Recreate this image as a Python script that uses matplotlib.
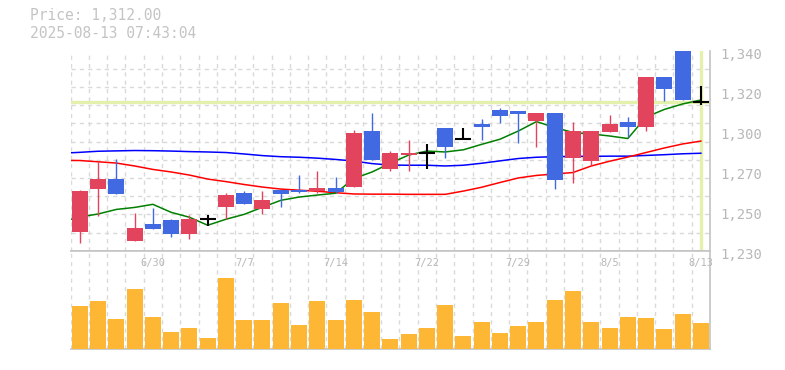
import numpy as np
import matplotlib
matplotlib.use("Agg")
import matplotlib.pyplot as plt
import matplotlib.transforms as mtransforms

plt.rcParams['font.family'] = ['DejaVu Sans Mono', 'DejaVu Sans']

# ---- data (daily candles, 6/24 .. 8/13) ----
dates = ["6/24", "6/25", "6/26", "6/27", "6/30", "7/1", "7/2", "7/3", "7/4",
         "7/7", "7/8", "7/9", "7/10", "7/11", "7/14", "7/15", "7/16", "7/17",
         "7/18", "7/22", "7/23", "7/24", "7/25", "7/28", "7/29", "7/30", "7/31",
         "8/1", "8/4", "8/5", "8/6", "8/7", "8/8", "8/12", "8/13"]
opens = [1240.3, 1263.9, 1269.4, 1235.5, 1244.7, 1246.9, 1239.3, 1247.3, 1254.2,
         1261.7, 1253.1, 1263.5, 1263.5, 1263.0, 1264.5, 1265.2, 1295.8, 1275.1,
         1282.5, 1283.7, 1297.5, 1291.3, 1299.7, 1307.4, 1306.7, 1301.3, 1305.7,
         1281.2, 1279.5, 1295.3, 1301.0, 1298.2, 1325.5, 1345.0, 1312.0]
highs = [1263.4, 1279.3, 1280.4, 1250.7, 1253.7, 1247.4, 1249.6, 1249.6, 1261.9,
         1263.0, 1263.0, 1263.5, 1271.6, 1273.8, 1270.5, 1296.4, 1305.7, 1284.8,
         1290.9, 1288.7, 1297.5, 1297.3, 1302.4, 1308.3, 1306.7, 1305.7, 1305.7,
         1300.8, 1295.8, 1304.8, 1303.5, 1325.7, 1325.5, 1345.0, 1320.6]
lows = [1234.4, 1249.2, 1261.3, 1235.5, 1242.1, 1237.4, 1236.3, 1243.6, 1247.3,
        1255.5, 1250.2, 1254.2, 1261.6, 1261.6, 1262.0, 1265.2, 1280.0, 1274.0,
        1274.0, 1275.1, 1281.2, 1291.3, 1290.9, 1300.4, 1289.4, 1287.2, 1264.0,
        1267.4, 1277.3, 1295.3, 1292.4, 1296.0, 1312.5, 1312.8, 1310.1]
closes = [1262.8, 1269.4, 1261.3, 1242.5, 1242.1, 1239.3, 1247.4, 1247.3, 1260.6,
          1255.5, 1257.9, 1261.3, 1262.4, 1264.5, 1262.4, 1294.7, 1280.0, 1283.7,
          1283.7, 1283.7, 1287.2, 1291.3, 1298.2, 1304.2, 1305.3, 1305.7, 1269.0,
          1296.1, 1295.8, 1299.7, 1298.2, 1325.7, 1319.1, 1312.8, 1312.0]
volumes = [43, 48, 30, 61, 32, 17, 21, 11, 72, 29, 29, 46, 24, 48, 29, 50, 37,
           10, 15, 21, 44, 13, 27, 16, 23, 27, 49, 59, 27, 21, 32, 31, 20, 35, 26]

# moving averages, first value is the day before 6/24
ma_short = [1246.0, 1248.5, 1250.2, 1252.7, 1253.8, 1255.5, 1251.1, 1248.4, 1244.0,
            1247.3, 1250.0, 1253.9, 1257.7, 1259.5, 1260.6, 1261.6, 1269.7, 1273.3,
            1278.1, 1282.6, 1284.8, 1284.3, 1285.5, 1288.5, 1291.3, 1295.8, 1301.0,
            1297.8, 1295.0, 1294.2, 1293.1, 1291.7, 1303.5, 1307.7, 1310.7, 1312.9]
ma_mid = [1279.7, 1279.6, 1278.9, 1278.2, 1276.6, 1274.7, 1273.3, 1271.6, 1269.4,
          1268.0, 1266.4, 1265.0, 1263.9, 1263.3, 1262.7, 1261.9, 1261.2, 1261.1,
          1261.1, 1261.0, 1261.0, 1261.0, 1262.8, 1264.9, 1267.5, 1270.0, 1271.4,
          1272.2, 1273.0, 1276.6, 1279.2, 1281.5, 1284.0, 1286.5, 1288.7, 1290.3]
ma_long = [1283.6, 1284.1, 1284.7, 1284.9, 1285.1, 1285.0, 1284.8, 1284.5, 1284.3,
           1284.0, 1283.2, 1282.3, 1281.7, 1281.4, 1280.9, 1280.2, 1279.3, 1277.9,
           1277.1, 1277.0, 1277.0, 1276.6, 1277.0, 1278.1, 1279.4, 1280.7, 1281.4,
           1281.7, 1281.9, 1281.9, 1282.0, 1282.0, 1282.4, 1282.8, 1283.3, 1283.6]

ytick_vals = [1230, 1252, 1274, 1296, 1318, 1340]
ytick_labels = ["1,230", "1,250", "1,270", "1,300", "1,320", "1,340"]
xlabel_dates = ["6/30", "7/7", "7/14", "7/22", "7/29", "8/5", "8/13"]
timestamp = "2025-08-13 07:43:04"

# ---- styles ----
UP = '#e2445e'
DOWN = '#4169e1'
VOL = '#fdb734'
GRID = '#d9d9d9'
FRAME = '#c4c4c4'
TXT = '#b8b8b8'
NOW = '#e4f1ac'

n = len(dates)
x = np.arange(n)
o, h, l, c = map(np.array, (opens, highs, lows, closes))
w = 0.875

fig = plt.figure(figsize=(7.85, 3.70), dpi=100)
ax = fig.add_axes([70.7 / 785, 119.3 / 370, 639.3 / 785, 200 / 370])
axv = fig.add_axes([70.7 / 785, 20.7 / 370, 639.3 / 785, 98.6 / 370])

for a in (ax, axv):
    a.set_xlim(-0.5, n - 0.5)
    a.set_xticks(np.arange(-0.5, n, 1))
    a.tick_params(axis='x', length=0, labelbottom=False)
    a.grid(axis='x', color=GRID, lw=1, ls=(0, (3, 3)))
    a.set_axisbelow(True)
    a.spines['left'].set_visible(False)
    for s in ('right', 'bottom', 'top'):
        a.spines[s].set_color(FRAME)
        a.spines[s].set_linewidth(1.2)
ax.spines['top'].set_visible(False)

# price panel
ax.set_ylim(1230, 1340)
ax.set_yticks(np.arange(1230, 1341, 10), minor=True)
ax.grid(axis='y', which='minor', color=GRID, lw=1, ls=(0, (3, 3)))
ax.yaxis.tick_right()
ax.set_yticks(ytick_vals, ytick_labels)
ax.tick_params(axis='y', which='both', length=0, pad=7.7, labelsize=10, labelcolor=TXT)
off = mtransforms.ScaledTranslation(0, -2.5 / 100, fig.dpi_scale_trans)
for lab in ax.get_yticklabels():
    lab.set_transform(lab.get_transform() + off)

ax.axhline(c[-1], color=NOW, lw=2.4, zorder=1)
ax.axvline(x[-1], ymin=0.01, ymax=0.995, color=NOW, lw=2.4, zorder=1)

xm = np.arange(-1, n)
ax.plot(xm, ma_long, color='#0000ff', lw=1.1, zorder=2)
ax.plot(xm, ma_mid, color='#ff0000', lw=1.1, zorder=2)
ax.plot(xm, ma_short, color='#008000', lw=1.1, zorder=2)

doji = np.abs(c - o) < 0.05
cols = np.where(c > o, UP, DOWN)
body = ~doji
ax.vlines(x[body], l[body], h[body], colors=cols[body], lw=1.0, zorder=3)
ax.bar(x[body], (c - o)[body], bottom=o[body], width=w, color=cols[body], zorder=4)
ax.vlines(x[doji], l[doji], h[doji], colors='black', lw=1.5, zorder=4)
ax.hlines(c[doji], x[doji] - w / 2, x[doji] + w / 2, colors='black', lw=1.5, zorder=4)

# volume panel
axv.bar(x, volumes, width=w, color=VOL, zorder=3)
axv.set_ylim(0, 99)
axv.set_yticks([])
tr = mtransforms.blended_transform_factory(axv.transData, axv.transAxes)
for d in xlabel_dates:
    axv.text(dates.index(d), 0.878, d, transform=tr, ha='center', va='center',
             fontsize=7.5, color=TXT, zorder=5)

fig.text(30 / 785, 1 - 16 / 370, f"Price: {c[-1]:,.2f}", va='center',
         fontsize=10.5, color='#c4c4c4')
fig.text(30 / 785, 1 - 33 / 370, timestamp, va='center', fontsize=10.5, color='#c4c4c4')

fig.savefig('out.png', dpi=100)
